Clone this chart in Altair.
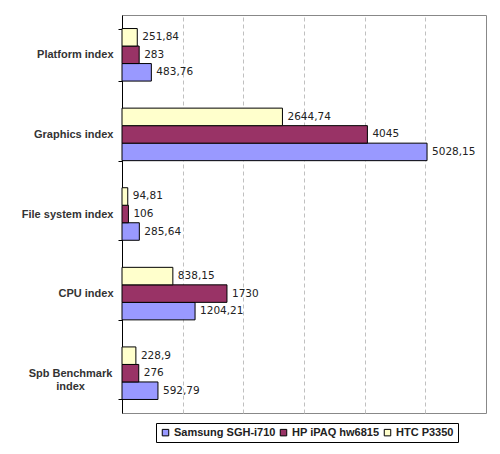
import altair as alt
import pandas as pd

categories = ["Platform index", "Graphics index", "File system index", "CPU index", "Spb Benchmark index"]
series = ["Samsung SGH-i710", "HP iPAQ hw6815", "HTC P3350"]
samsung = [483.76, 5028.15, 285.64, 1204.21, 592.79]
hp = [283, 4045, 106, 1730, 276]
htc = [251.84, 2644.74, 94.81, 838.15, 228.9]
colors = ["#9999FF", "#993366", "#FFFFCC"]
grid_values = [1000, 2000, 3000, 4000, 5000]

rows = []
for s, vals in zip(series, [samsung, hp, htc]):
    for c, v in zip(categories, vals):
        rows.append({"category": c, "series": s, "value": v,
                     "label": f"{v:g}".replace(".", ",")})
df = pd.DataFrame(rows)

offset_order = ["HTC P3350", "HP iPAQ hw6815", "Samsung SGH-i710"]

wrap_test = "datum.value == 'Spb Benchmark index'"
label_expr = f"{wrap_test} ? ['Spb Benchmark', 'index'] : datum.value"

y_enc = alt.Y("category:N", sort=categories,
              scale=alt.Scale(paddingInner=0.34, paddingOuter=0.17),
              axis=alt.Axis(title=None, tickBand="extent", tickSize=4,
                            labelPadding={"condition": {"test": wrap_test, "value": 48}, "value": 5},
                            labelAlign={"condition": {"test": wrap_test, "value": "center"}, "value": "right"},
                            tickColor="#000", domainColor="#000",
                            labelFont="Liberation Sans", labelFontWeight="bold",
                            labelFontSize=11, labelColor="#333", labelLimit=200,
                            labelExpr=label_expr))
yoff = alt.YOffset("series:N", sort=offset_order, scale=alt.Scale(paddingInner=0, paddingOuter=0))
x_enc = alt.X("value:Q", scale=alt.Scale(domain=[0, 6000], nice=False),
              axis=alt.Axis(title=None, labels=False, ticks=False, domain=False,
                            values=grid_values, grid=True, gridDash=[4, 3],
                            gridColor="#c0c0c0", gridWidth=1))

bars = alt.Chart(df).mark_bar(stroke="#000", strokeWidth=1).encode(
    x=x_enc, y=y_enc, yOffset=yoff,
    color=alt.Color("series:N", sort=series,
                    scale=alt.Scale(domain=series, range=colors),
                    legend=alt.Legend(title=None, orient="none", legendX=34, legendY=408,
                                      direction="horizontal", strokeColor="#000",
                                      fillColor="#fff", padding=4,
                                      symbolType="square", symbolSize=42,
                                      symbolStrokeColor="#000", symbolStrokeWidth=1,
                                      labelFont="Liberation Sans", labelFontWeight="bold",
                                      labelFontSize=11, labelColor="#222",
                                      columnPadding=2, labelOffset=3, labelLimit=200))
)

texts = alt.Chart(df).mark_text(align="left", baseline="middle", dx=5,
                                font="DejaVu Sans", fontSize=10.5, color="#222").encode(
    x="value:Q", y=alt.Y("category:N", sort=categories), yOffset=yoff, text="label:N"
)

chart = alt.layer(bars, texts).properties(
    width=364, height=398,
    autosize=alt.AutoSizeParams(type="none"),
    padding={"left": 114, "top": 7, "right": 6, "bottom": 34},
    background="#ffffff",
).configure_view(stroke="#888888", strokeWidth=1)

chart.save("out.html", embed_options={"renderer": "svg", "actions": False})
